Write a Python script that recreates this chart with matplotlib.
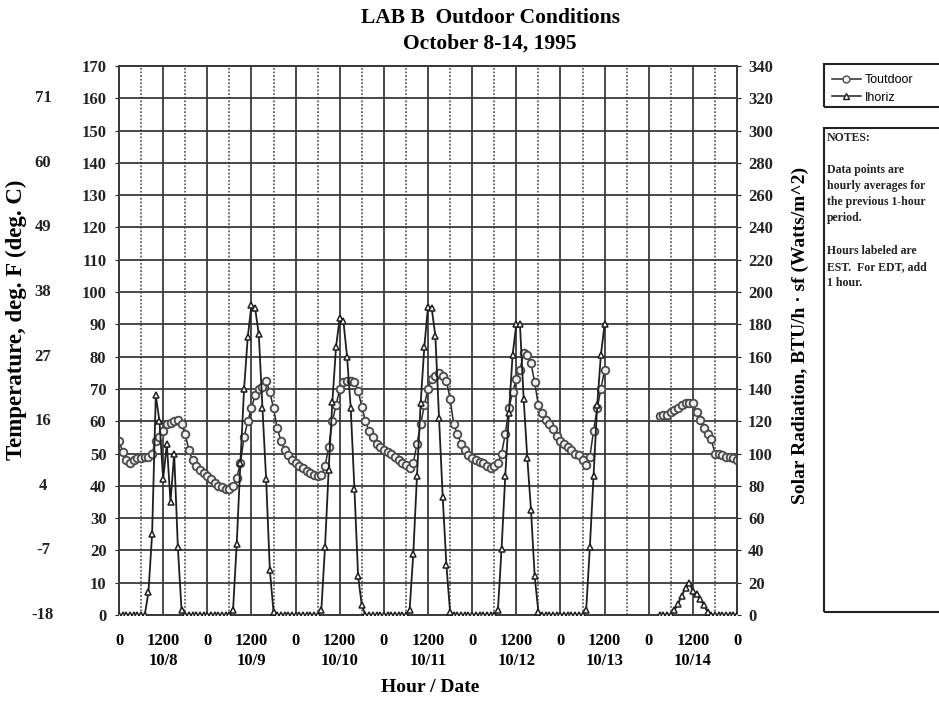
import numpy as np
import matplotlib.pyplot as plt
from matplotlib.lines import Line2D
from matplotlib.patches import Rectangle
import matplotlib.transforms as mtransforms

plt.rcParams['font.family'] = ['Liberation Serif', 'DejaVu Serif']

# hourly data, hour 0 = midnight starting 10/8
hours_a = np.arange(0, 133)
hours_b = np.arange(147, 169)

# outdoor temperature (deg F)
t_out_a = [54, 50.5, 48, 47, 48, 48.5, 48.5, 49, 49, 50, 54, 55, 57, 59, 59.5, 60, 60.5, 59, 56, 51, 48, 46, 45, 44,
           43, 42, 41, 40, 39.5, 39, 39, 40, 42.5, 47, 55, 60, 64, 68, 70, 70.5, 72.5, 69, 64, 58, 54, 51, 49.5, 48,
           47, 46, 45.5, 44.5, 44, 43.5, 43, 43.5, 46, 52, 60, 65, 70, 72, 72.5, 72.5, 72, 69.5, 64.5, 60, 57, 55, 53, 52,
           51, 50.5, 50, 49, 48, 47, 46.5, 45.5, 47, 53, 59, 65, 70, 73, 74, 75, 74, 72.5, 67, 59, 56, 53, 51, 49.5,
           48.5, 48, 47.5, 47, 46, 45.5, 46, 47, 50, 56, 64, 69, 73, 76, 81, 80.5, 78, 72, 65, 62.5, 60.5, 59, 57.5, 55.5,
           54, 53, 52, 51, 50, 49.5, 48, 46.5, 49, 57, 64, 70, 76]
t_out_b = [61.5, 62, 62, 63, 63.5, 64, 65, 65.5, 65.5, 65.5, 63, 60.5, 58, 56, 54.5, 50, 50, 49.5, 49, 49, 48.5, 48]

# horizontal solar radiation (BTU/h.sf)
i_hor_a = [0, 0, 0, 0, 0, 0, 0, 0, 14, 50, 136, 120, 84, 106, 70, 100, 42, 3,
           0, 0, 0, 0, 0, 0, 0, 0, 0, 0, 0, 0, 0,
           3, 44, 94, 140, 172, 192, 190, 174, 128, 84, 28, 2,
           0, 0, 0, 0, 0, 0, 0, 0, 0, 0, 0, 0,
           3, 42, 90, 132, 166, 184, 182, 160, 128, 78, 24, 6,
           0, 0, 0, 0, 0, 0, 0, 0, 0, 0, 0, 0,
           3, 38, 86, 131, 166, 191, 190, 173, 122, 73, 31, 2,
           0, 0, 0, 0, 0, 0, 0, 0, 0, 0, 0, 0,
           3, 41, 86, 125, 161, 180, 180, 134, 97, 65, 24, 2,
           0, 0, 0, 0, 0, 0, 0, 0, 0, 0, 0, 0,
           3, 42, 86, 130, 161, 180]
i_hor_b = [0, 0, 0, 0, 3, 7, 12, 17, 20, 15, 13, 10, 6, 2, 0, 0, 0, 0, 0, 0, 0, 0]

x_ticks = np.arange(0, 169, 12)
dates = ['10/8', '10/9', '10/10', '10/11', '10/12', '10/13', '10/14']
x_labels = []
for i, t in enumerate(x_ticks):
    if i % 2 == 0:
        x_labels.append('0')
    else:
        x_labels.append('1200\n' + dates[i // 2])

degF = [160, 140, 120, 100, 80, 60, 40, 20, 0]
degC = ['71', '60', '49', '38', '27', '16', '4', '-7', '-18']

W, H = 939, 701
fig = plt.figure(figsize=(W / 100, H / 100), dpi=100)
ax = fig.add_axes([119 / W, 86 / H, 618 / W, 549 / H])
ax2 = ax.twinx()

line_c = '#1e1e1e'
grid_c = '#3a3a3a'

# temperature
for hx, hy in [(hours_a, t_out_a), (hours_b, t_out_b)]:
    ax.plot(hx, hy, color='#2a2a2a', lw=1.1, marker='o', ms=5.5,
            mfc='#f0f0f0', mec='#4a4a4a', mew=1.3, zorder=3)
# solar
for hx, hy in [(hours_a, i_hor_a), (hours_b, i_hor_b)]:
    ax2.plot(hx, hy, color=line_c, lw=1.3, marker='^', ms=5,
             mfc='white', mec=line_c, mew=1.1, zorder=4)

ax.set_xlim(0, 168)
ax.set_ylim(0, 170)
ax2.set_ylim(0, 340)
ax.set_yticks(np.arange(0, 171, 10))
ax2.set_yticks(np.arange(0, 341, 20))
ax.set_xticks(x_ticks)
ax.set_xticklabels(x_labels, linespacing=1.3)
ax.set_xticks(np.arange(6, 168, 12), minor=True)

ax.grid(which='major', color=grid_c, lw=1.3, ls='-', zorder=0)
ax.grid(which='minor', axis='x', color='#606060', lw=1.3, ls=(0, (1, 1)), zorder=0)

for a in (ax, ax2):
    for s in a.spines.values():
        s.set_color(grid_c)
        s.set_linewidth(1.3)

ax.tick_params(axis='x', which='both', length=0, pad=13, labelsize=12)
ax.tick_params(axis='y', length=3, width=0.8, pad=6, labelsize=12, colors='#222222')
ax2.tick_params(axis='y', length=3, width=0.8, pad=5, labelsize=12, colors='#222222')
for lab in ax.get_xticklabels() + ax.get_yticklabels() + ax2.get_yticklabels():
    lab.set_fontweight('bold')

# celsius scale on the far left
trans = mtransforms.blended_transform_factory(fig.transFigure, ax.transData)
for f, c in zip(degF, degC):
    ax.text(43 / W, f, c, transform=trans, ha='center', va='center',
            fontsize=12, fontweight='bold', color='#222222')

fig.text(16 / W, 1 - 320 / H, 'Temperature, deg. F (deg. C)', rotation=90,
         ha='center', va='center', fontsize=16.5, fontweight='bold')
fig.text(800 / W, 1 - 335 / H, 'Solar Radiation, BTU/h · sf (Watts/m^2)', rotation=90,
         ha='center', va='center', fontsize=14, fontweight='bold')
fig.text(430 / W, 1 - 688 / H, 'Hour / Date', ha='center', va='center',
         fontsize=14, fontweight='bold')

fig.text(490 / W, 1 - 18 / H, 'LAB B  Outdoor Conditions', ha='center', va='center',
         fontsize=15.5, fontweight='bold')
fig.text(490 / W, 1 - 44 / H, 'October 8-14, 1995', ha='center', va='center',
         fontsize=15.5, fontweight='bold')

# legend box
fig.add_artist(Rectangle((824 / W, 1 - 107 / H), 130 / W, 43 / H, transform=fig.transFigure,
                         fill=False, edgecolor='#222222', lw=1.5))
handles = [Line2D([], [], color='#2a2a2a', lw=1.1, marker='o', ms=5, mfc='#f0f0f0', mec='#4a4a4a'),
           Line2D([], [], color=line_c, lw=1.1, marker='^', ms=5, mfc='white', mec=line_c)]
fig.legend(handles, ['Toutdoor', 'Ihoriz'], loc='upper left', bbox_to_anchor=(822 / W, 1 - 64 / H),
           frameon=False, handlelength=2.3, handletextpad=0.3, labelspacing=0.45,
           borderpad=0.3, prop={'family': 'Liberation Sans', 'size': 9})

# notes box
fig.add_artist(Rectangle((824 / W, 1 - 612 / H), 130 / W, 484 / H, transform=fig.transFigure,
                         fill=False, edgecolor='#222222', lw=1.5))
notes = [('NOTES:', 138), ('Data points are', 170), ('hourly averages for', 186),
         ('the previous 1-hour', 202), ('period.', 218), ('Hours labeled are', 251),
         ('EST.  For EDT, add', 267), ('1 hour.', 283)]
for txt, yy in notes:
    fig.text(827 / W, 1 - yy / H, txt, ha='left', va='center', fontsize=8.5,
             fontweight='bold', color='#222222')

fig.savefig('out.png', dpi=100)
